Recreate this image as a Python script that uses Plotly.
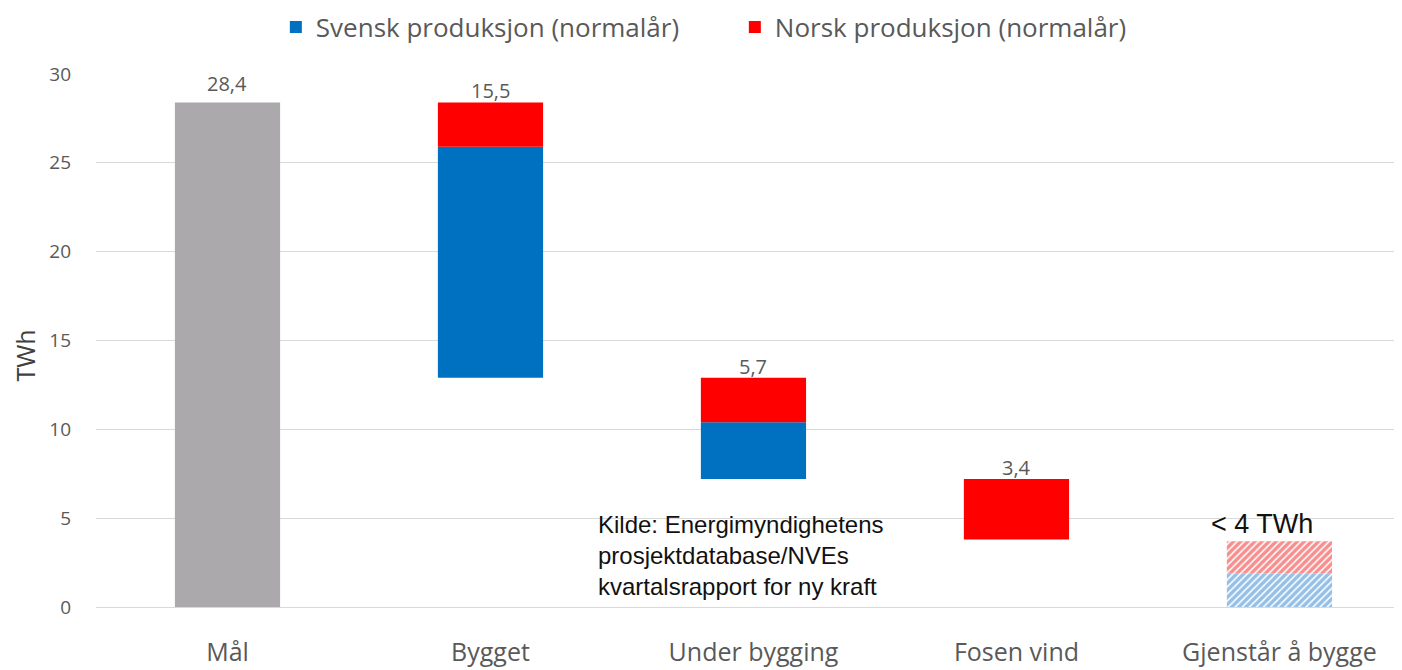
import plotly.graph_objects as go

categories = ["Mål", "Bygget", "Under bygging", "Fosen vind", "Gjenstår å bygge"]
maal = 28.4
steps = ["Bygget", "Under bygging", "Fosen vind"]
svensk_steps = [13.0, 3.2, 0.0]
norsk_steps = [2.5, 2.5, 3.4]
rest_svensk = 1.9
rest_norsk = 1.8
rest_label = "< 4 TWh"
y_ticks = [0, 5, 10, 15, 20, 25, 30]
y_title = "TWh"
source_text = "Kilde: Energimyndighetens<br>prosjektdatabase/NVEs<br>kvartalsrapport for ny kraft"

GREY = "#ABA9AC"
BLUE = "#0070C0"
RED = "#FF0000"
TXT = "#595959"
FONT = "Open Sans"

# waterfall bases
tops, bottoms = [], []
cur = maal
for s, n in zip(svensk_steps, norsk_steps):
    tops.append(cur)
    cur = round(cur - (s + n), 2)
    bottoms.append(cur)

fig = go.Figure()
fig.add_trace(go.Bar(x=["Mål"], y=[maal], base=[0], marker=dict(color=GREY, line=dict(width=0)),
                     width=0.4, showlegend=False, name="Mål"))

sx = [c for c, s in zip(steps, svensk_steps) if s > 0]
sy = [s for s in svensk_steps if s > 0]
sb = [b for b, s in zip(bottoms, svensk_steps) if s > 0]
fig.add_trace(go.Bar(x=sx, y=sy, base=sb, marker=dict(color=BLUE, line=dict(width=0)),
                     width=0.4, name="Svensk produksjon (normalår)"))
fig.add_trace(go.Bar(x=steps, y=norsk_steps,
                     base=[b + s for b, s in zip(bottoms, svensk_steps)],
                     marker=dict(color=RED, line=dict(width=0)),
                     width=0.4, name="Norsk produksjon (normalår)"))

fig.add_trace(go.Bar(x=["Gjenstår å bygge"], y=[rest_svensk], base=[0], width=0.4, showlegend=False,
                     marker=dict(color="white", line=dict(width=0),
                                 pattern=dict(shape="/", fgcolor="#2A82D2", bgcolor="white",
                                              size=5, solidity=0.7))))
fig.add_trace(go.Bar(x=["Gjenstår å bygge"], y=[rest_norsk], base=[rest_svensk], width=0.4, showlegend=False,
                     marker=dict(color="white", line=dict(width=0),
                                 pattern=dict(shape="/", fgcolor="#F02020", bgcolor="white",
                                              size=5, solidity=0.7))))

annotations = []
annotations.append(dict(x="Mål", y=maal, text=f"{maal:.1f}".replace(".", ","), showarrow=False,
                        yanchor="bottom", yshift=3, font=dict(family=FONT, size=20, color=TXT)))
for c, t, b in zip(steps, tops, bottoms):
    annotations.append(dict(x=c, y=t, text=f"{t - b:.1f}".replace(".", ","), showarrow=False,
                            yanchor="bottom", yshift=-4, font=dict(family=FONT, size=20, color=TXT)))
annotations.append(dict(x="Gjenstår å bygge", y=rest_svensk + rest_norsk, text=rest_label, showarrow=False,
                        yanchor="bottom", yshift=0, xshift=-17,
                        font=dict(family="Liberation Sans", size=27, color="#111111")))
annotations.append(dict(x=2.0, y=5.3, xref="x", yref="y", text=source_text, showarrow=False,
                        xanchor="left", yanchor="top", align="left", xshift=-157, yshift=4,
                        font=dict(family="Liberation Sans", size=24, color="#111111")))
annotations.append(dict(x=0, y=0.5, xref="paper", yref="paper", text=y_title, showarrow=False,
                        textangle=-90, xanchor="center", yanchor="middle", xshift=-72, yshift=-15,
                        font=dict(family=FONT, size=25, color="#404040")))

fig.update_layout(
    width=1394, height=662,
    margin=dict(l=88, r=0, t=66, b=63, autoexpand=False),
    paper_bgcolor="white", plot_bgcolor="white",
    barmode="overlay",
    separators=", ",
    font=dict(family=FONT, color=TXT),
    legend=dict(orientation="h", x=0.1377, xanchor="left", y=1.132, yanchor="top",
                xref="paper", yref="paper",
                font=dict(family=FONT, size=26, color=TXT), traceorder="normal",
                itemwidth=30, entrywidth=414),
    annotations=annotations,
    xaxis=dict(categoryorder="array", categoryarray=categories, range=[-0.5, 4.466],
               showgrid=False, showline=False, zeroline=False, automargin=False,
               tickfont=dict(family=FONT, size=25, color=TXT), ticks="",
               ticklabelstandoff=28),
    yaxis=dict(range=[0, 30], tickvals=y_ticks, showgrid=True, gridcolor="#D9D9D9", gridwidth=1,
               zeroline=True, zerolinecolor="#D9D9D9", zerolinewidth=1, automargin=False,
               tickfont=dict(family=FONT, size=19, color=TXT), ticklabelstandoff=24),
)

fig.write_html("out.html")
